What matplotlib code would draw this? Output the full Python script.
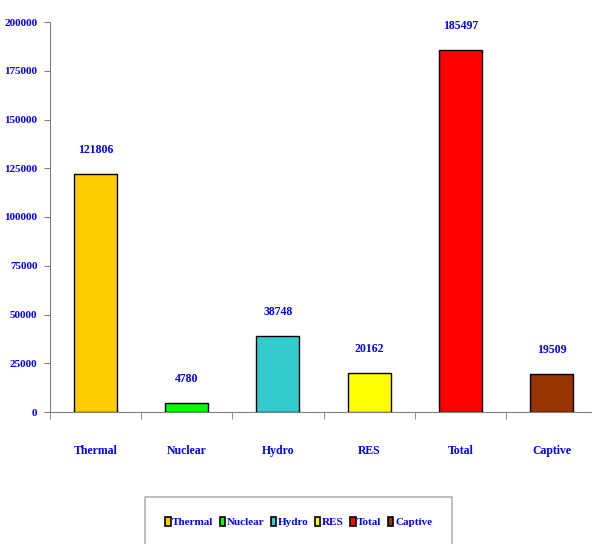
import matplotlib
matplotlib.use("Agg")
import matplotlib.pyplot as plt
from matplotlib.patches import Patch

categories = ["Thermal", "Nuclear", "Hydro", "RES", "Total", "Captive"]
values = [121806, 4780, 38748, 20162, 185497, 19509]
colors = ["#FFCC00", "#00FF00", "#33CCCC", "#FFFF00", "#FF0000", "#993300"]
yticks = [0, 25000, 50000, 75000, 100000, 125000, 150000, 175000, 200000]

BLUE = "#0000FF"
FONT = "Liberation Serif"

fig = plt.figure(figsize=(5.92, 5.44), dpi=100)
ax = fig.add_axes([50/592, 1-412/544, 547/592, 390/544])

x = list(range(len(categories)))
ax.bar(x, values, width=0.47, color=colors, edgecolor="black", linewidth=1.0, zorder=3)

for xi, v in zip(x, values):
    ax.annotate(str(v), (xi, v), xytext=(0, 13), textcoords="offset points",
                ha="center", va="bottom", color=BLUE, fontsize=8.5,
                fontweight="bold", family=FONT)

ax.set_xlim(-0.5, 5.5)
ax.set_ylim(0, 200000)
ax.set_yticks(yticks)
ax.set_yticklabels([str(t) for t in yticks], color=BLUE, fontsize=8,
                   fontweight="bold", family=FONT)
ax.set_xticks(x)
ax.set_xticklabels(categories, color=BLUE, fontsize=8.5, fontweight="bold", family=FONT)
ax.tick_params(axis="x", length=0, pad=24)
ax.set_xticks([i - 0.5 for i in range(len(categories) + 1)], minor=True)
ax.tick_params(axis="x", which="minor", length=5, color="#808080", direction="out")
ax.tick_params(axis="y", length=4, color="#808080", direction="out", pad=5)

for s in ["top", "right"]:
    ax.spines[s].set_visible(False)
ax.spines["left"].set_color("#808080")
ax.spines["bottom"].set_color("#808080")

handles = [Patch(facecolor=c, edgecolor="black", linewidth=1.2) for c in colors]
leg = fig.legend(handles, categories, loc="upper left",
                 bbox_to_anchor=(145/592, 1-497/544, 307/592, 0.0), mode="expand",
                 ncol=6,
                 prop={"family": FONT, "weight": "bold", "size": 8},
                 handlelength=0.5, handleheight=0.9, handletextpad=0.15,
                 columnspacing=0.9, borderpad=1.8, borderaxespad=0.0,
                 fancybox=False, frameon=True, edgecolor="#A0A0A0")
for t in leg.get_texts():
    t.set_color(BLUE)
leg.get_frame().set_linewidth(1.2)

fig.savefig("out.png", dpi=100)
